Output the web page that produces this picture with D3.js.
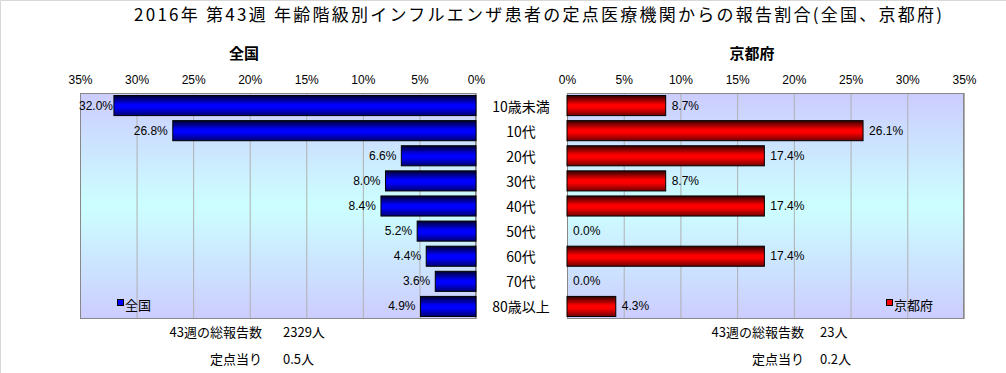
<!DOCTYPE html>
<html>
<head>
<meta charset="utf-8">
<script src="https://cdn.jsdelivr.net/npm/d3@7"></script>
<style>
  body { margin: 0; background: #fff; }
  svg { display: block; font-family: "Noto Sans CJK JP", "Noto Sans", sans-serif; }
</style>
</head>
<body>
<div class="chart"></div>
<script>
var width = 1006;
var height = 373;

var categories = ["10歳未満", "10代", "20代", "30代", "40代", "50代", "60代", "70代", "80歳以上"];
var zenkoku = [32.0, 26.8, 6.6, 8.0, 8.4, 5.2, 4.4, 3.6, 4.9];
var kyoto = [8.7, 26.1, 17.4, 8.7, 17.4, 0.0, 17.4, 0.0, 4.3];
var ticks = [0, 5, 10, 15, 20, 25, 30, 35];

var title = "2016年 第43週 年齢階級別インフルエンザ患者の定点医療機関からの報告割合(全国、京都府)";
var leftInfo = { total: "2329人", per: "0.5人" };
var rightInfo = { total: "23人", per: "0.2人" };

var svg = d3.select(".chart").append("svg")
  .attr("width", width)
  .attr("height", height);

var defs = svg.append("defs");

// plot background gradient
var bg = defs.append("linearGradient").attr("id", "bg")
  .attr("x1", 0).attr("y1", 0).attr("x2", 0).attr("y2", 1);
bg.append("stop").attr("offset", "0%").attr("stop-color", "#ccccff");
bg.append("stop").attr("offset", "50%").attr("stop-color", "#ccffff");
bg.append("stop").attr("offset", "100%").attr("stop-color", "#ccccff");

function barGrad(id, dark, mid, bottom) {
  var g = defs.append("linearGradient").attr("id", id)
    .attr("x1", 0).attr("y1", 0).attr("x2", 0).attr("y2", 1);
  g.append("stop").attr("offset", "0%").attr("stop-color", dark);
  g.append("stop").attr("offset", "45%").attr("stop-color", mid);
  g.append("stop").attr("offset", "60%").attr("stop-color", mid);
  g.append("stop").attr("offset", "100%").attr("stop-color", bottom);
}
barGrad("blueBar", "#000030", "#0000ff", "#000070");
barGrad("redBar", "#300000", "#ff0000", "#700000");

// outer light border
svg.append("path")
  .attr("d", "M0.5," + height + "V0.5H" + width)
  .attr("fill", "none")
  .attr("stroke", "#d8d8d8");

// title
svg.append("text")
  .attr("x", 538)
  .attr("y", 21)
  .attr("text-anchor", "middle")
  .attr("font-size", 17)
  .attr("textLength", 808)
  .attr("lengthAdjust", "spacing")
  .text(title);

var plotTop = 93, plotBottom = 319;

var y = d3.scaleBand()
  .domain(categories)
  .range([plotTop, plotBottom])
  .paddingInner(0.2)
  .paddingOuter(0.1);

var xLeft = d3.scaleLinear().domain([0, 35]).range([476, 80]);
var xRight = d3.scaleLinear().domain([0, 35]).range([567, 964]);

function panel(x, values, grad, name, legendX, nameX, info, side) {
  var g = svg.append("g");
  var x0 = Math.min(x.range()[0], x.range()[1]);
  var x1 = Math.max(x.range()[0], x.range()[1]);
  var rows = values.map(function (v, i) { return { v: v, c: categories[i] }; });

  g.append("rect")
    .attr("x", x0).attr("y", plotTop)
    .attr("width", x1 - x0).attr("height", plotBottom - plotTop)
    .attr("fill", "url(#bg)");

  // gridlines
  g.append("g")
    .attr("transform", "translate(0," + plotTop + ")")
    .call(d3.axisBottom(x).tickValues(ticks).tickSize(plotBottom - plotTop).tickFormat(""))
    .call(function (a) {
      a.select(".domain").remove();
      a.selectAll("line").attr("stroke", "#b0b0b0");
    });

  // frame
  g.append("rect")
    .attr("x", x0 + 0.5).attr("y", plotTop + 0.5)
    .attr("width", x1 - x0 - 1).attr("height", plotBottom - plotTop - 1)
    .attr("fill", "none")
    .attr("stroke", "#888");

  // tick labels
  g.append("g")
    .attr("transform", "translate(0,87)")
    .call(d3.axisTop(x).tickValues(ticks).tickSize(0).tickFormat(function (d) { return d + "%"; }))
    .call(function (a) {
      a.select(".domain").remove();
      a.selectAll("text")
        .attr("font-size", 12)
        .attr("font-family", "'Liberation Sans', sans-serif")
        .attr("fill", "#000");
    });

  // bars
  g.selectAll(".bar")
    .data(rows.filter(function (d) { return d.v > 0; }))
    .enter().append("rect")
    .attr("class", "bar")
    .attr("x", function (d) { return Math.min(x(0), x(d.v)); })
    .attr("y", function (d) { return y(d.c); })
    .attr("width", function (d) { return Math.abs(x(d.v) - x(0)); })
    .attr("height", y.bandwidth())
    .attr("fill", "url(#" + grad + ")")
    .attr("stroke", "#000")
    .attr("stroke-width", 1);

  // value labels
  g.selectAll(".val")
    .data(rows)
    .enter().append("text")
    .attr("class", "val")
    .attr("x", function (d) {
      if (side === "left") return Math.max(x(d.v) - 5, x0 + 33);
      return x(d.v) + 6;
    })
    .attr("y", function (d) { return y(d.c) + y.bandwidth() / 2 + 4; })
    .attr("text-anchor", side === "left" ? "end" : "start")
    .attr("font-size", 12)
    .attr("font-family", "'Liberation Sans', sans-serif")
    .text(function (d) { return d.v.toFixed(1) + "%"; });

  // legend
  var lg = g.append("g").attr("transform", "translate(" + legendX + ",306)");
  lg.append("rect")
    .attr("x", 0.5).attr("y", -6.5).attr("width", 6).attr("height", 6)
    .attr("fill", side === "left" ? "#0000ff" : "#ff0000")
    .attr("stroke", "#000");
  lg.append("text")
    .attr("x", 8).attr("y", 4)
    .attr("font-size", 13)
    .text(name);

  // panel heading
  g.append("text")
    .attr("x", nameX).attr("y", 59)
    .attr("text-anchor", "middle")
    .attr("font-size", 15)
    .attr("font-weight", "bold")
    .text(name);

  // totals
  var labX = side === "left" ? 262 : 804;
  var valX = side === "left" ? 283 : 820;
  g.append("text").attr("x", labX).attr("y", 337).attr("text-anchor", "end")
    .attr("font-size", 13).text("43週の総報告数");
  g.append("text").attr("x", valX).attr("y", 337)
    .attr("font-size", 13).text(info.total);
  g.append("text").attr("x", labX).attr("y", 364).attr("text-anchor", "end")
    .attr("font-size", 13).text("定点当り");
  g.append("text").attr("x", valX).attr("y", 364)
    .attr("font-size", 13).text(info.per);
}

panel(xLeft, zenkoku, "blueBar", "全国", 117, 244, leftInfo, "left");
panel(xRight, kyoto, "redBar", "京都府", 886, 752, rightInfo, "right");

// category labels
svg.append("g")
  .selectAll("text")
  .data(categories)
  .enter().append("text")
  .attr("x", 521)
  .attr("y", function (d) { return y(d) + y.bandwidth() / 2 + 6; })
  .attr("text-anchor", "middle")
  .attr("font-size", 14)
  .text(function (d) { return d; });
</script>
</body>
</html>
